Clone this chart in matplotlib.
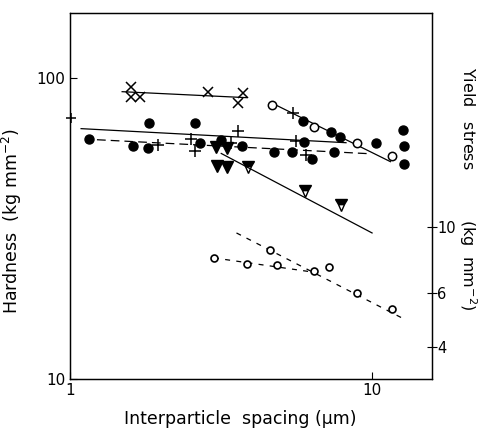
import matplotlib
matplotlib.use("Agg")
import matplotlib.pyplot as plt
from matplotlib.ticker import FixedLocator, NullLocator, FixedFormatter

# --- data (hardness scale, kg mm^-2) ---
cross_x = [1.60, 1.60, 1.71, 2.87, 3.73, 3.59]
cross_y = [93.3, 86.4, 86.4, 89.8, 89.1, 82.6]

edge_plus_x = [1.01]
edge_plus_y = [73.6]

dot_x = [1.16, 1.83, 1.62, 1.82, 2.60, 2.70, 3.17, 3.70, 4.72, 5.42, 5.95, 5.90,
         6.32, 7.31, 7.83, 7.48, 10.3, 12.7, 12.8, 12.8]
dot_y = [62.7, 70.9, 59.4, 58.5, 70.9, 60.8, 62.2, 59.4, 56.8, 56.8, 61.3, 71.9,
         53.8, 66.2, 63.7, 56.8, 60.8, 67.2, 59.4, 51.8]

plus_x = [1.96, 2.52, 2.60, 3.59, 3.42, 5.46, 5.60, 6.04]
plus_y = [59.9, 62.7, 57.2, 66.7, 60.8, 76.5, 61.8, 55.5]

ring_x = [4.65, 6.42, 8.92, 11.6]
ring_y = [81.3, 68.7, 60.8, 55.1]

tri_x = [3.05, 3.30, 3.08, 3.32]
tri_y = [59.0, 58.5, 51.0, 50.6]

halftri_x = [3.90, 5.99, 7.89]
halftri_y = [50.6, 42.1, 37.8]

small_x = [2.99, 3.87, 4.84, 4.58, 6.42, 7.20, 8.92, 11.6]
small_y = [25.2, 24.1, 23.9, 26.8, 22.8, 23.6, 19.3, 17.1]

# fitted lines (end points)
cross_line = ([1.49, 3.84], [89.8, 85.8])
solid_line = ([1.09, 8.20], [67.7, 60.8])
dash_line = ([1.23, 9.77], [62.2, 55.9])
ring_line = ([4.70, 11.5], [82.0, 52.6])
tri_line = ([3.17, 10.0], [56.0, 30.5])
small_line1 = ([3.56, 12.6], [30.5, 15.9])
small_line2 = ([3.00, 6.60], [25.2, 22.5])

ratio = 3.2  # hardness / yield stress offset of the right axis

fig = plt.figure(figsize=(4.78, 4.30), dpi=100)
ax = fig.add_axes([0.146, 0.119, 0.758, 0.851])
ax.set_xscale("log")
ax.set_yscale("log")
ax.set_xlim(1, 15.8)
ax.set_ylim(10, 164)

lk = dict(color="black", lw=0.9)
ax.plot(*cross_line, **lk)
ax.plot(*solid_line, **lk)
ax.plot(*dash_line, color="black", lw=0.9, dashes=(7, 4))
ax.plot(*ring_line, **lk)
ax.plot(*tri_line, **lk)
ax.plot(*small_line1, color="black", lw=0.9, dashes=(4, 5))
ax.plot(*small_line2, color="black", lw=0.9, dashes=(4, 5))

ax.plot(cross_x, cross_y, "x", color="black", ms=7, mew=1.1)
ax.plot(edge_plus_x, edge_plus_y, "+", color="black", ms=7, mew=1.1, clip_on=False)
ax.plot(dot_x, dot_y, "o", color="black", ms=6.5)
ax.plot(plus_x, plus_y, "+", color="black", ms=8, mew=1.1)
ax.plot(ring_x, ring_y, "o", mfc="white", mec="black", ms=6, mew=1.1)
ax.plot(tri_x, tri_y, "v", color="black", ms=8)
ax.plot(halftri_x, halftri_y, "v", mfc="black", mec="black", fillstyle="top",
        ms=8, mew=1.0)
ax.plot(small_x, small_y, "o", mfc="white", mec="black", ms=5, mew=1.2)

ax.xaxis.set_major_locator(FixedLocator([1, 10]))
ax.xaxis.set_major_formatter(FixedFormatter(["1", "10"]))
ax.xaxis.set_minor_locator(NullLocator())
ax.yaxis.set_major_locator(FixedLocator([10, 100]))
ax.yaxis.set_major_formatter(FixedFormatter(["10", "100"]))
ax.yaxis.set_minor_locator(NullLocator())
ax.tick_params(direction="in", length=5, width=0.8, labelsize=11, pad=3)

ax2 = ax.twinx()
ax2.set_yscale("log")
ax2.set_ylim(10 / ratio, 164 / ratio)
ax2.yaxis.set_major_locator(FixedLocator([4, 6, 10]))
ax2.yaxis.set_major_formatter(FixedFormatter(["4", "6", "10"]))
ax2.yaxis.set_minor_locator(NullLocator())
ax2.tick_params(direction="inout", length=7, width=0.8, labelsize=10.5, pad=0)

for a in (ax, ax2):
    for s in a.spines.values():
        s.set_linewidth(0.9)

ax.set_xlabel("Interparticle  spacing (\u03bcm)", fontsize=12.5)
ax.xaxis.set_label_coords(0.47, -0.085)
ax.set_ylabel("Hardness  (kg mm$^{-2}$)", fontsize=12.5)
ax.yaxis.set_label_coords(-0.125, 0.43)
ax2.set_ylabel("Yield   stress          (kg  mm$^{-2}$)", fontsize=11.5, rotation=-90,
               va="center")
ax2.yaxis.set_label_coords(1.1, 0.52)

fig.savefig("out.png", dpi=100)
